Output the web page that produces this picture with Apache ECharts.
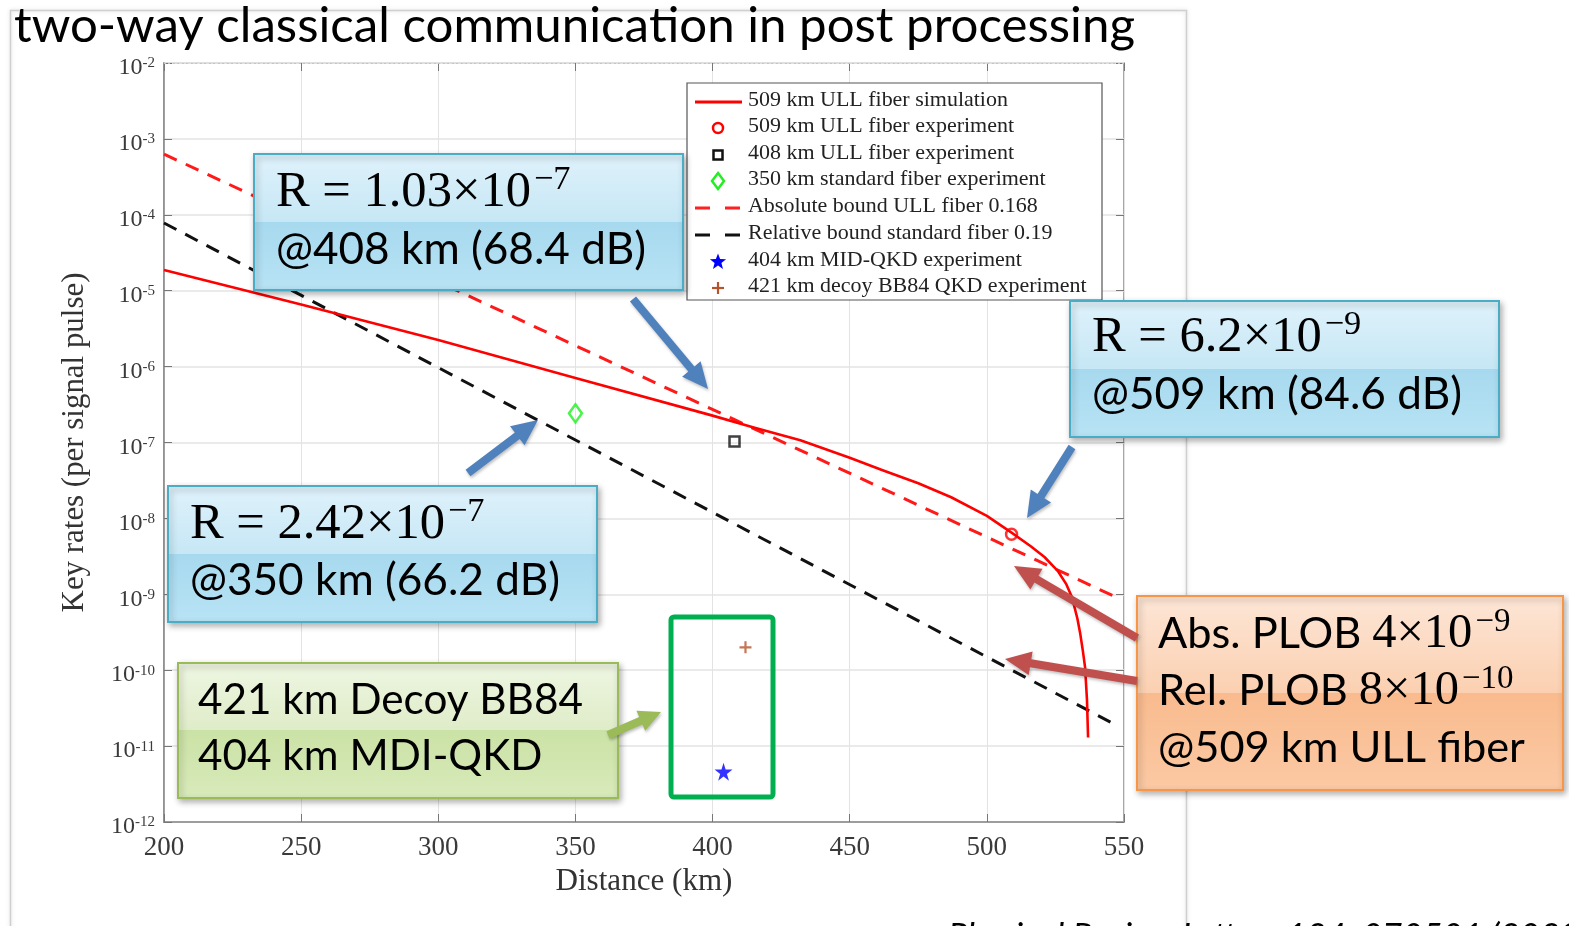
<!DOCTYPE html>
<html><head><meta charset="utf-8">
<script src="https://cdn.jsdelivr.net/npm/echarts@6/dist/echarts.min.js"></script>
<style>html,body{margin:0;padding:0;background:#fff;}#c{width:1569px;height:926px;}</style>
</head><body><div id="c"></div>
<script>
// ---------------- data ----------------
const seriesNames = [
  '509 km ULL fiber simulation',
  '509 km ULL fiber experiment',
  '408 km ULL fiber experiment',
  '350 km standard fiber experiment',
  'Absolute bound ULL fiber 0.168',
  'Relative bound standard fiber 0.19',
  '404 km MID-QKD experiment',
  '421 km decoy BB84 QKD experiment'
];
const xTicks = [200, 250, 300, 350, 400, 450, 500, 550];
const simDistance = [200, 250, 300, 350, 400, 415, 432, 450, 462, 475, 487, 500, 509, 516, 521, 526, 529, 531, 533, 534, 535, 535.8, 536.5, 536.9];
const simRate = [1.87e-5, 6.6e-6, 2.24e-6, 7.1e-7, 2.26e-7, 1.58e-7, 1.07e-7, 6.3e-8, 4.3e-8, 2.9e-8, 1.9e-8, 1.08e-8, 6.5e-9, 4.3e-9, 3.1e-9, 2.0e-9, 1.35e-9, 9.2e-10, 4.8e-10, 3.1e-10, 1.8e-10, 1.1e-10, 4.1e-11, 1.3e-11];
const absDistance = [200, 547];
const absRate = [6.3e-4, 9.2e-10];
const relDistance = [200, 547];
const relRate = [7.8e-5, 1.9e-11];
const exp509 = [[509, 6.2e-9]];
const exp408 = [[408, 1.03e-7]];
const exp350 = [[350, 2.42e-7]];
const mdi404 = [[404, 4.6e-12]];
const bb84 = [[412, 2.0e-10]];

// ---------------- helpers ----------------
const SERIF = 'Liberation Serif', SANS = 'Lato';
const KMID = {'Liberation Serif': 0.3375, 'Lato': 0.387};
const cv = document.createElement('canvas').getContext('2d');
function tw(text, size, fam, style) { cv.font = (style ? style + ' ' : '') + size + 'px "' + fam + '"'; return cv.measureText(text).width; }
function fit(text, fam, target, style) { return 100 * target / tw(text, 100, fam, style); }
function T(x, base, text, size, fam, color, extra) {
  return {type: 'text', x: x, y: base - (KMID[fam] || 0.34) * size, z: 120,
    style: Object.assign({text: text, fontSize: size, fontFamily: fam, fill: color || '#000', verticalAlign: 'middle', textAlign: 'left'}, extra || {})};
}
function mathLine(x, base, main, sup, size) {
  const w = tw(main, size, SERIF);
  return [T(x, base, main, size, SERIF), T(x + w + 3, base - size * 0.36, sup, size * 0.68, SERIF)];
}
function box(x, y, w, h, c0, c1, c2, c3, border) {
  return {type: 'rect', z: 100, shape: {x: x, y: y, width: w, height: h},
    style: {fill: new echarts.graphic.LinearGradient(0, 0, 0, 1, [
      {offset: 0, color: c0}, {offset: 0.5, color: c1}, {offset: 0.5, color: c2}, {offset: 1, color: c3}]),
      stroke: border, lineWidth: 2, shadowBlur: 6, shadowOffsetX: 2, shadowOffsetY: 3, shadowColor: 'rgba(0,0,0,0.3)'}};
}
function arrow(x1, y1, x2, y2, color, shaft, headW, headL) {
  const dx = x2 - x1, dy = y2 - y1, L = Math.hypot(dx, dy), ux = dx / L, uy = dy / L, nx = -uy, ny = ux;
  const bx = x2 - ux * headL, by = y2 - uy * headL;
  const pts = [[x1 + nx * shaft / 2, y1 + ny * shaft / 2], [bx + nx * shaft / 2, by + ny * shaft / 2], [bx + nx * headW / 2, by + ny * headW / 2],
    [x2, y2], [bx - nx * headW / 2, by - ny * headW / 2], [bx - nx * shaft / 2, by - ny * shaft / 2], [x1 - nx * shaft / 2, y1 - ny * shaft / 2]];
  return {type: 'polygon', z: 105, shape: {points: pts}, style: {fill: color, shadowBlur: 3, shadowOffsetX: 1, shadowOffsetY: 2, shadowColor: 'rgba(0,0,0,0.25)'}};
}
function starPts(cx, cy, R, r) {
  const p = [];
  for (let i = 0; i < 10; i++) { const a = -Math.PI / 2 + i * Math.PI / 5, rr = i % 2 ? r : R; p.push([cx + rr * Math.cos(a), cy + rr * Math.sin(a)]); }
  return p;
}

// ---------------- text sizes ----------------
const TITLE_A = 'two-way classical communica', TITLE_B = 'tion in post processing';
const CITE = 'Physical Review Letters 124, 070501 (2020)';
const sansSize = fit('@408 km (68.4 dB)', SANS, 370);
const greenSize = fit('421 km Decoy BB84', SANS, 385);
const mathSize = fit('R = 1.03×10', SERIF, 255);
const titleSize = fit(TITLE_A + TITLE_B, SANS, 1121);
const citeSize = fit('Physical Review Letters 124, 070501 (201', SANS, 612, 'italic');
const legSize = fit(seriesNames[0], SERIF, 260);
const xNameSize = fit('Distance (km)', SERIF, 177);
const yNameSize = fit('Key rates (per signal pulse)', SERIF, 340);

// ---------------- graphics ----------------
const G = [];
// slide frame
G.push({type: 'rect', z: -10, shape: {x: 10.5, y: 10.5, width: 1176, height: 940}, style: {fill: 'none', stroke: '#cfcfcf', lineWidth: 1.5, shadowBlur: 4, shadowColor: 'rgba(0,0,0,0.15)'}});
G.push(T(14, 45, TITLE_A, titleSize, SANS, '#000'));
G.push(T(14 + tw(TITLE_A, titleSize, SANS), 45, TITLE_B, titleSize, SANS, '#000'));
G.push(T(948, 950.5, CITE, citeSize, SANS, '#000', {fontStyle: 'italic'}));

// legend
const LX = 687, LY = 83;
G.push({type: 'rect', z: 90, shape: {x: LX, y: LY, width: 415, height: 217}, style: {fill: '#fff', stroke: '#555', lineWidth: 1.2}});
const rows = [102, 128, 155, 181, 208, 235, 262, 288];
rows.forEach((ry, i) => { G.push(T(748, ry + 6, seriesNames[i], legSize, SERIF, '#222')); });
G.push({type: 'line', z: 95, shape: {x1: 695, y1: rows[0], x2: 742, y2: rows[0]}, style: {stroke: '#ff0000', lineWidth: 3}});
G.push({type: 'circle', z: 95, shape: {cx: 718, cy: rows[1], r: 5}, style: {fill: 'none', stroke: '#ff0000', lineWidth: 2.5}});
G.push({type: 'rect', z: 95, shape: {x: 713.5, y: rows[2] - 4.5, width: 9, height: 9}, style: {fill: 'none', stroke: '#111', lineWidth: 2.5}});
G.push({type: 'polygon', z: 95, shape: {points: [[718, rows[3] - 8], [724, rows[3]], [718, rows[3] + 8], [712, rows[3]]]}, style: {fill: 'none', stroke: '#22ee22', lineWidth: 2.5}});
G.push({type: 'line', z: 95, shape: {x1: 695, y1: rows[4], x2: 742, y2: rows[4]}, style: {stroke: '#ff2020', lineWidth: 3, lineDash: [15, 15]}});
G.push({type: 'line', z: 95, shape: {x1: 695, y1: rows[5], x2: 742, y2: rows[5]}, style: {stroke: '#111', lineWidth: 3, lineDash: [15, 15]}});
G.push({type: 'polygon', z: 95, shape: {points: starPts(718, rows[6], 8.5, 3.6)}, style: {fill: '#0000ff'}});
G.push({type: 'line', z: 95, shape: {x1: 712, y1: rows[7], x2: 724, y2: rows[7]}, style: {stroke: '#b5532a', lineWidth: 2.2}});
G.push({type: 'line', z: 95, shape: {x1: 718, y1: rows[7] - 6, x2: 718, y2: rows[7] + 6}, style: {stroke: '#b5532a', lineWidth: 2.2}});

// blue annotation boxes
const B0 = '#dff2fb', B1 = '#c6e7f5', B2 = '#a7d9ee', B3 = '#b8e3f5', BB = '#4bacc6';
G.push(box(254, 154, 429, 136, B0, B1, B2, B3, BB));
G.push(...mathLine(276, 210, 'R = 1.03×10', '−7', mathSize));
G.push(T(276, 267, '@408 km (68.4 dB)', sansSize, SANS));
G.push(box(1070, 301, 429, 136, B0, B1, B2, B3, BB));
G.push(...mathLine(1092, 355, 'R = 6.2×10', '−9', mathSize));
G.push(T(1092, 412, '@509 km (84.6 dB)', sansSize, SANS));
G.push(box(168, 486, 429, 136, B0, B1, B2, B3, BB));
G.push(...mathLine(190, 542, 'R = 2.42×10', '−7', mathSize));
G.push(T(190, 598, '@350 km (66.2 dB)', sansSize, SANS));
// green box
G.push(box(178, 663, 440, 135, '#eef6e2', '#dfecc8', '#cbe2a6', '#d8eaba', '#9bbb59'));
G.push(T(198, 717, '421 km Decoy BB84', greenSize, SANS));
G.push(T(198, 773, '404 km MDI-QKD', greenSize, SANS));
// orange box
G.push(box(1137, 596, 426, 194, '#fde6d6', '#fbd0b1', '#f9bb8e', '#fbc9a4', '#f79646'));
(function () {
  const oSize = fit('@509 km ULL fiber', SANS, 367);
  const w1 = tw('Abs. PLOB', oSize, SANS), w2 = tw('Rel. PLOB', oSize, SANS);
  G.push(T(1158, 651, 'Abs. PLOB', oSize, SANS));
  G.push(...mathLine(1158 + w1 + 11, 651, '4×10', '−9', mathSize * 0.96));
  G.push(T(1158, 708, 'Rel. PLOB', oSize, SANS));
  G.push(...mathLine(1158 + w2 + 11, 708, '8×10', '−10', mathSize * 0.96));
  G.push(T(1158, 765, '@509 km ULL fiber', oSize, SANS));
})();
// green highlight rectangle
G.push({type: 'rect', z: 104, shape: {x: 671, y: 617, width: 102, height: 180, r: 3}, style: {fill: 'none', stroke: '#00b050', lineWidth: 5}});
// arrows
G.push(arrow(633, 299, 708, 389, '#4f81bd', 8, 24, 26));
G.push(arrow(468, 473, 538, 420, '#4f81bd', 8, 24, 26));
G.push(arrow(1072, 447, 1027, 518, '#4f81bd', 8, 24, 26));
G.push(arrow(1137, 638, 1014, 566, '#c0504d', 8, 24, 26));
G.push(arrow(1137, 681, 1005, 659, '#c0504d', 8, 24, 26));
G.push(arrow(608, 735, 661, 712, '#9bbb59', 8, 22, 22));

// minor grid values (decorative)
const minorGrid = [];
for (let e = -12; e < -2; e++) for (let m = 2; m <= 9; m++) minorGrid.push({yAxis: m * Math.pow(10, e)});

const axisLabelY = {
  formatter: v => '{b|10}{s|' + Math.round(Math.log10(v)) + '}',
  padding: [10, 0, 0, 0], margin: 9,
  rich: {b: {fontFamily: SERIF, fontSize: 24, color: '#3a3a3a', lineHeight: 24}, s: {fontFamily: SERIF, fontSize: 15, color: '#3a3a3a', verticalAlign: 'top', lineHeight: 15}}
};
const tickStyle = {inside: true, length: 8, lineStyle: {color: '#777', width: 1}};

const option = {
  animation: false,
  backgroundColor: '#fff',
  grid: {left: 164, right: 445, top: 63, bottom: 104, show: true, borderColor: '#8a8a8a', borderWidth: 1.5, backgroundColor: '#fff'},
  xAxis: [{
    type: 'value', min: xTicks[0], max: xTicks[xTicks.length - 1], interval: 50,
    name: 'Distance (km)', nameLocation: 'middle', nameGap: 42,
    nameTextStyle: {fontFamily: SERIF, fontSize: xNameSize, color: '#333'},
    axisLine: {show: true, onZero: false, lineStyle: {color: '#8a8a8a', width: 1.5}},
    axisTick: tickStyle,
    axisLabel: {fontFamily: SERIF, fontSize: 27, color: '#3a3a3a', margin: 12},
    splitLine: {show: true, lineStyle: {color: '#e3e3e3', width: 1}}
  }, {
    type: 'value', position: 'top', min: xTicks[0], max: xTicks[xTicks.length - 1], interval: 50,
    axisLine: {show: false}, axisTick: tickStyle, axisLabel: {show: false}, splitLine: {show: false}
  }],
  yAxis: [{
    type: 'log', logBase: 10, min: 1e-12, max: 1e-2, splitNumber: 10,
    name: 'Key rates (per signal pulse)', nameLocation: 'middle', nameGap: 74,
    nameTextStyle: {fontFamily: SERIF, fontSize: yNameSize, color: '#333'},
    axisLine: {show: true, lineStyle: {color: '#8a8a8a', width: 1.5}},
    axisTick: tickStyle,
    axisLabel: axisLabelY,
    splitLine: {show: true, lineStyle: {color: '#e3e3e3', width: 1.5}}
  }, {
    type: 'log', logBase: 10, min: 1e-12, max: 1e-2, splitNumber: 10, position: 'right',
    axisLine: {show: false}, axisTick: tickStyle, axisLabel: {show: false}, splitLine: {show: false}
  }],
  series: [
    {name: seriesNames[0], type: 'line', data: simDistance.map((d, i) => [d, simRate[i]]), showSymbol: false, z: 5,
      lineStyle: {color: '#ff0000', width: 2.6, join: 'round'}, itemStyle: {color: '#ff0000'},
      markLine: {silent: true, symbol: 'none', label: {show: false}, z: 1, animation: false,
        lineStyle: {color: '#c4c4c4', type: [1.5, 3], width: 1}, emphasis: {disabled: true}, data: minorGrid}},
    {name: seriesNames[1], type: 'scatter', data: exp509, symbol: 'circle', symbolSize: 11, z: 6,
      itemStyle: {color: 'transparent', borderColor: '#ff0000', borderWidth: 2.5}},
    {name: seriesNames[2], type: 'scatter', data: exp408, symbol: 'rect', symbolSize: 10, z: 6,
      itemStyle: {color: 'transparent', borderColor: '#111', borderWidth: 2.5}},
    {name: seriesNames[3], type: 'scatter', data: exp350, symbol: 'diamond', symbolSize: [13, 18], z: 6,
      itemStyle: {color: 'transparent', borderColor: '#22ee22', borderWidth: 2.5}},
    {name: seriesNames[4], type: 'line', data: absDistance.map((d, i) => [d, absRate[i]]), showSymbol: false, z: 4,
      lineStyle: {color: '#ff1a1a', width: 3, type: [14, 10]}, itemStyle: {color: '#ff1a1a'}},
    {name: seriesNames[5], type: 'line', data: relDistance.map((d, i) => [d, relRate[i]]), showSymbol: false, z: 4,
      lineStyle: {color: '#111', width: 3, type: [14, 10]}, itemStyle: {color: '#111'}},
    {name: seriesNames[6], type: 'scatter', data: mdi404, z: 6,
      symbol: 'path://M50,0 L61,35 L98,35 L68,57 L79,91 L50,70 L21,91 L32,57 L2,35 L39,35 Z', symbolSize: 18,
      itemStyle: {color: '#0000ff'}},
    {name: seriesNames[7], type: 'scatter', data: bb84, z: 6,
      symbol: 'path://M0,5L10,5M5,0L5,10', symbolSize: 12,
      itemStyle: {color: 'transparent', borderColor: '#b5532a', borderWidth: 2.2}}
  ],
  graphic: {elements: G}
};
const chart = echarts.init(document.getElementById('c'), null, {renderer: 'canvas'});
chart.setOption(option);
</script></body></html>
